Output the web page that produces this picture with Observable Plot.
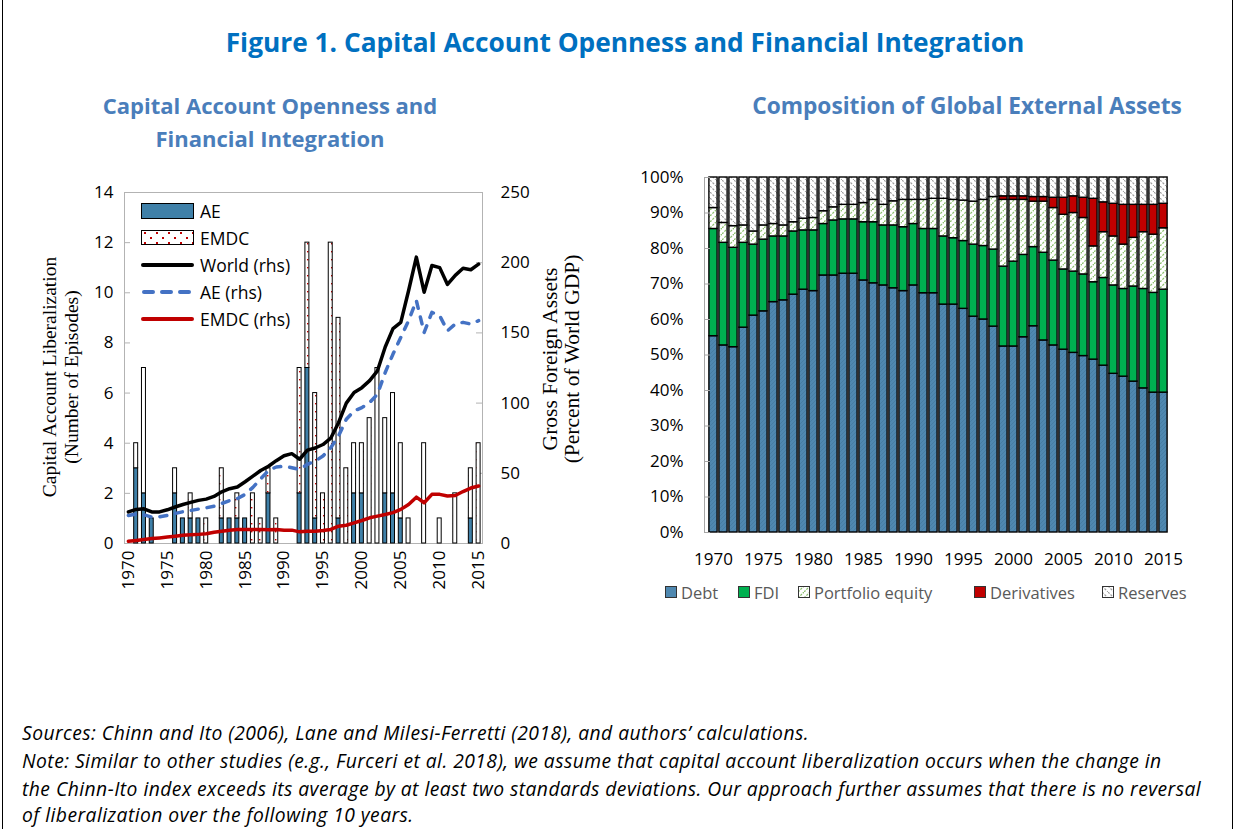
<!DOCTYPE html>
<html><head><meta charset="utf-8">
<script src="https://cdn.jsdelivr.net/npm/d3@7"></script>
<script src="https://cdn.jsdelivr.net/npm/@observablehq/plot@0.6"></script>
<style>
body{margin:0;background:#fff}
#page{position:relative;width:1238px;height:829px;overflow:hidden;font-family:"Open Sans",sans-serif;color:#000;background:#fff}
.abs{position:absolute}
#frameBox{left:2px;top:0;width:1231px;height:829px;border-left:1px solid #000;border-right:1px solid #000;box-sizing:border-box}
#title{left:6px;top:24px;width:1238px;text-align:center;font-weight:700;font-size:26.3px;color:#0070c0;line-height:36px;white-space:nowrap}
.sub{font-weight:700;font-size:22px;color:#4a7ebb;text-align:center;line-height:33px;width:460px;white-space:nowrap}
.axt{font-family:"Liberation Serif",serif;font-size:19.5px;line-height:22px;text-align:center;width:320px;height:44px;transform:rotate(-90deg);white-space:nowrap}
.note{left:22px;font-style:italic;font-size:19.3px;letter-spacing:0.45px;line-height:28px;white-space:nowrap}
.lg{display:flex;align-items:center;height:27px;font-size:17.5px;white-space:nowrap}
.lg svg{margin-right:6px}
.rl{position:absolute;top:582px;height:20px;display:flex;align-items:center;font-size:16.5px;color:#595959;white-space:nowrap}
.rl svg{margin-right:4px}
</style></head><body>
<div id="page">
<svg width="0" height="0" style="position:absolute">
 <defs>
  <pattern id="emdcDots" patternUnits="userSpaceOnUse" width="8" height="8">
   <rect width="8" height="8" fill="#ffffff"/>
   <rect x="3" y="3" width="1.4" height="1.4" fill="#c00000"/>
  </pattern>
  <pattern id="emdcDotsLg" patternUnits="userSpaceOnUse" width="12" height="10">
   <rect width="12" height="10" fill="#ffffff"/>
   <rect x="3" y="2" width="2" height="2" fill="#c00000"/>
   <rect x="9" y="7" width="2" height="2" fill="#c00000"/>
  </pattern>
  <pattern id="debtFill" patternUnits="userSpaceOnUse" width="4" height="4">
   <rect width="4" height="4" fill="#4f88b0"/>
   <path d="M0,4 L4,0" stroke="#447aa0" stroke-width="0.8"/>
  </pattern>
  <pattern id="peHatch" patternUnits="userSpaceOnUse" width="6" height="6">
   <rect width="6" height="6" fill="#ffffff"/>
   <path d="M0,6 L6,0" stroke="#8dc26f" stroke-width="1.3" stroke-dasharray="2.2,1.2"/>
  </pattern>
  <pattern id="resHatch" patternUnits="userSpaceOnUse" width="6" height="6">
   <rect width="6" height="6" fill="#ffffff"/>
   <path d="M0,0 L6,6" stroke="#9e9e9e" stroke-width="1.2" stroke-dasharray="2.2,1.4"/>
  </pattern>
 </defs>
</svg>
<div id="left" class="abs" style="left:0;top:0"></div>
<div id="right" class="abs" style="left:620px;top:0"></div>
<div id="frameBox" class="abs"></div>
<div id="title" class="abs">Figure 1. Capital Account Openness and Financial Integration</div>
<div class="abs sub" style="left:40px;top:89px">Capital Account Openness and<br>Financial Integration</div>
<div class="abs sub" style="left:737px;top:89px;font-size:22.7px">Composition of Global External Assets</div>
<div class="abs axt" style="left:-99px;top:355px">Capital Account Liberalization<br>(Number of Episodes)</div>
<div class="abs axt" style="left:401px;top:337px;font-size:21.5px">Gross Foreign Assets<br>(Percent of World GDP)</div>

<div class="abs" style="left:141px;top:197px">
 <div class="lg"><svg width="53" height="16"><rect x="0.5" y="0.5" width="52" height="15" fill="#3f80a8" stroke="#000"/></svg>AE</div>
 <div class="lg"><svg width="53" height="16"><rect x="0.5" y="0.5" width="52" height="14" fill="url(#emdcDotsLg)" stroke="#000"/></svg>EMDC</div>
 <div class="lg"><svg width="53" height="16"><line x1="2" y1="8" x2="51" y2="8" stroke="#000" stroke-width="4" stroke-linecap="round"/></svg>World (rhs)</div>
 <div class="lg"><svg width="53" height="16"><line x1="3" y1="8" x2="51" y2="8" stroke="#4472c4" stroke-width="4" stroke-linecap="round" stroke-dasharray="9,9"/></svg>AE (rhs)</div>
 <div class="lg"><svg width="53" height="16"><line x1="2" y1="8" x2="51" y2="8" stroke="#c00000" stroke-width="4" stroke-linecap="round"/></svg>EMDC (rhs)</div>
</div>

<div class="rl" style="left:665px"><svg width="12" height="12"><rect x="0.5" y="0.5" width="11" height="11" fill="#4f88b0" stroke="#333"/></svg>Debt</div>
<div class="rl" style="left:738px"><svg width="12" height="12"><rect x="0.5" y="0.5" width="11" height="11" fill="#00b050" stroke="#333"/></svg>FDI</div>
<div class="rl" style="left:798px"><svg width="12" height="12"><rect x="0.5" y="0.5" width="11" height="11" fill="url(#peHatch)" stroke="#333"/></svg>Portfolio equity</div>
<div class="rl" style="left:974px"><svg width="12" height="12"><rect x="0.5" y="0.5" width="11" height="11" fill="#c00000" stroke="#333"/></svg>Derivatives</div>
<div class="rl" style="left:1102px"><svg width="12" height="12"><rect x="0.5" y="0.5" width="11" height="11" fill="url(#resHatch)" stroke="#333"/></svg>Reserves</div>

<div class="abs note" style="top:719px">Sources: Chinn and Ito (2006), Lane and Milesi-Ferretti (2018), and authors’ calculations.</div>
<div class="abs note" style="top:747px">Note: Similar to other studies (e.g., Furceri et al. 2018), we assume that capital account liberalization occurs when the change in</div>
<div class="abs note" style="top:775px">the Chinn-Ito index exceeds its average by at least two standards deviations. Our approach further assumes that there is no reversal</div>
<div class="abs note" style="top:801px">of liberalization over the following 10 years.</div>
</div>
<script>
// ---------- shared categories ----------
const years = [1970,1971,1972,1973,1974,1975,1976,1977,1978,1979,
               1980,1981,1982,1983,1984,1985,1986,1987,1988,1989,
               1990,1991,1992,1993,1994,1995,1996,1997,1998,1999,
               2000,2001,2002,2003,2004,2005,2006,2007,2008,2009,
               2010,2011,2012,2013,2014,2015];
const xTickYears = [1970,1975,1980,1985,1990,1995,2000,2005,2010,2015];

// ---------- left chart: liberalization episodes (lhs) ----------
const aeEpisodes =   [0,3,2,1,0,0,2,1,1,1, 0,0,1,1,1,1,0,0,2,0, 0,0,2,7,1,0,0,1,0,2, 2,0,0,2,2,1,0,0,0,0, 0,0,0,0,1,0];
const emdcEpisodes = [0,1,5,0,0,0,1,0,1,0, 1,0,2,0,1,0,2,1,1,1, 0,0,5,5,5,2,12,8,3,2, 2,5,7,3,4,3,1,0,4,0, 1,0,2,0,2,4];
const leftTicks = [0,2,4,6,8,10,12,14];

// ---------- left chart: gross foreign assets, % of world GDP (rhs) ----------
const worldAssets = [22.5,24.3,24.7,22.5,22.5,24,26,27.8,29.3,30.7,
                     31.6,33.5,36.8,39,40.2,44,48,52,55,59,
                     62.5,64,60,66.5,68,70.5,75,86,100,107.5,
                     111,116,123,140,153,157.5,180,204,179,198,
                     196.5,184.5,191,196,195,199];
const aeAssets =    [20,20.9,20.4,18.8,19,20,21.4,22.6,23.5,24.5,
                     25.4,26.6,28.5,30.5,32,35,40,46,52,54.5,
                     55,54,52.8,56.4,58.7,62.3,68.2,76.6,88.5,94.4,
                     96.8,100.4,106.3,121.8,134.9,146.8,158.7,173,150.3,164.6,
                     162.2,151.5,156.3,157.5,156.3,158.7];
const emdcAssets =  [1.6,2.2,2.8,3.5,4,4.6,5.2,5.9,6.2,6.5,
                     6.9,8,8.8,9.5,10,10,10,10,9.8,10,
                     9.5,9.5,8.3,8.8,8.8,9.2,10,12.3,13,14.7,
                     16.4,18.3,19.5,20.7,22,24.3,27.8,33,29,35,
                     35,33.8,34.2,37,39.5,41];
const rightTicks = [0,50,100,150,200,250];

// ---------- right chart: composition of global external assets (%) ----------
const seriesNames = ["Debt","FDI","Portfolio equity","Derivatives","Reserves"];
const debtShare = [55.3,52.7,52.2,57.7,61.1,62.3,64.9,65.4,67.0,68.4,
                   68.0,72.4,72.4,72.9,72.9,71.0,70.2,69.6,68.8,68.0,
                   69.6,67.4,67.4,64.2,64.2,63.0,60.8,60.0,58.0,52.4,
                   52.4,55.0,58.1,54.1,52.7,51.5,50.6,49.7,48.7,47.0,
                   44.7,43.9,42.5,40.6,39.4,39.4];
const fdiShare =  [30.2,28.9,28.0,23.9,20.0,20.2,18.5,18.0,17.8,16.7,
                   17.1,14.5,15.5,15.3,15.3,16.4,17.2,16.9,17.7,18.0,
                   17.3,18.1,18.1,19.2,18.7,19.1,20.3,20.7,21.7,22.5,
                   23.9,23.2,22.3,24.7,23.9,22.6,22.9,23.0,21.8,24.7,
                   24.9,24.7,26.8,28.0,28.1,29.0];
const peShare =   [5.9,5.6,6.1,4.9,3.7,4.0,3.5,3.1,2.6,3.3,
                   3.5,3.6,3.7,4.1,4.1,5.4,6.3,5.8,6.8,7.7,
                   6.8,8.2,8.5,10.6,10.8,11.4,12.1,13.0,14.8,18.8,
                   17.4,15.5,12.8,14.4,14.8,15.4,16.5,15.9,10.1,12.9,
                   13.8,12.5,13.7,16.0,16.4,17.3];
const derivShare =[0,0,0,0,0,0,0,0,0,0,
                   0,0,0,0,0,0,0,0,0,0,
                   0,0,0,0,0,0,0,0,0,1.0,
                   1.0,1.0,1.3,1.3,2.9,4.8,4.7,5.7,13.4,8.4,
                   9.2,11.2,9.3,7.7,8.4,6.9];
const resShare =  [8.6,12.8,13.7,13.5,15.2,13.5,13.1,13.5,12.6,11.6,
                   11.4,9.5,8.4,7.7,7.7,7.2,6.3,7.7,6.7,6.3,
                   6.3,6.3,6.0,6.0,6.3,6.5,6.8,6.3,5.5,5.3,
                   5.3,5.3,5.5,5.5,5.7,5.7,5.3,5.7,6.0,7.0,
                   7.4,7.7,7.7,7.7,7.7,7.4];
const pctTicks = [0,10,20,30,40,50,60,70,80,90,100];

// ---------- tables built from the arrays ----------
const k = 14 / 250; // rhs -> lhs
const epData = years.flatMap((year, i) => [
  {year, group: "AE", count: aeEpisodes[i]},
  {year, group: "EMDC", count: emdcEpisodes[i]}
]).filter(d => d.count > 0);
const lineTable = years.map((year, i) => ({year, world: worldAssets[i], ae: aeAssets[i], emdc: emdcAssets[i]}));
const shareArrays = [debtShare, fdiShare, peShare, derivShare, resShare];
const compData = years.flatMap((year, i) => seriesNames.map((s, j) => ({year, series: s, share: shareArrays[j][i]})))
  .filter(d => d.share > 0);

const baseStyle = {background: "transparent", fontFamily: "'Open Sans', sans-serif", fontSize: "17px", color: "#000", overflow: "visible"};
const yearFmt = d => String(d);

const leftPlot = Plot.plot({
  width: 620, height: 610,
  marginLeft: 124, marginRight: 138, marginTop: 192, marginBottom: 67,
  style: baseStyle,
  x: {type: "band", domain: years, padding: 0},
  y: {domain: [0, 14]},
  color: {domain: ["AE", "EMDC"], range: ["#3f80a8", "url(#emdcDots)"]},
  marks: [
    Plot.frame({stroke: "#b3b3b3"}),
    Plot.tickY(leftTicks, {y: d => d, stroke: "#b3b3b3", insetRight: 352}),
    Plot.tickY(rightTicks, {y: d => d * k, stroke: "#b3b3b3", insetLeft: 352}),
    Plot.barY(epData, {x: "year", y: "count", fill: "group", stroke: "#000", strokeWidth: 1, insetLeft: 1.9, insetRight: 1.9}),
    Plot.lineY(lineTable, {x: "year", y: d => d.ae * k, stroke: "#4472c4", strokeWidth: 3.5, strokeDasharray: "7,9", strokeLinecap: "round"}),
    Plot.lineY(lineTable, {x: "year", y: d => d.world * k, stroke: "#000", strokeWidth: 3.5, strokeLinejoin: "round"}),
    Plot.lineY(lineTable, {x: "year", y: d => d.emdc * k, stroke: "#c00000", strokeWidth: 3.5, strokeLinejoin: "round"}),
    Plot.axisY(leftTicks, {anchor: "left", tickSize: 0, tickPadding: 11, label: null}),
    Plot.axisY(rightTicks.map(v => v * k), {anchor: "right", tickSize: 0, tickPadding: 18, tickFormat: d => String(Math.round(d / k)), label: null}),
    Plot.axisX(xTickYears, {anchor: "bottom", tickSize: 0, tickPadding: 7, tickRotate: -90, tickFormat: yearFmt, label: null})
  ]
});
document.getElementById("left").appendChild(leftPlot);

const rightPlot = Plot.plot({
  width: 618, height: 610,
  marginLeft: 84, marginRight: 66, marginTop: 177, marginBottom: 78,
  style: baseStyle,
  x: {type: "band", domain: years, padding: 0},
  y: {domain: [0, 100]},
  color: {domain: seriesNames, range: ["url(#debtFill)", "#00b050", "url(#peHatch)", "#c00000", "url(#resHatch)"]},
  marks: [
    Plot.barY(compData, {x: "year", y: "share", fill: "series", stroke: "#000", strokeWidth: 1.4, insetLeft: 0.9, insetRight: 0.9}),
    Plot.frame({anchor: "left", stroke: "#a6a6a6"}),
    Plot.tickY(pctTicks, {y: d => d, stroke: "#a6a6a6", insetRight: 462}),
    Plot.axisY(pctTicks, {anchor: "left", tickSize: 0, tickPadding: 21, tickFormat: d => d + "%", label: null}),
    Plot.axisX(xTickYears, {anchor: "bottom", tickSize: 0, tickPadding: 20, tickFormat: yearFmt, label: null})
  ]
});
document.getElementById("right").appendChild(rightPlot);
</script>
</body></html>
